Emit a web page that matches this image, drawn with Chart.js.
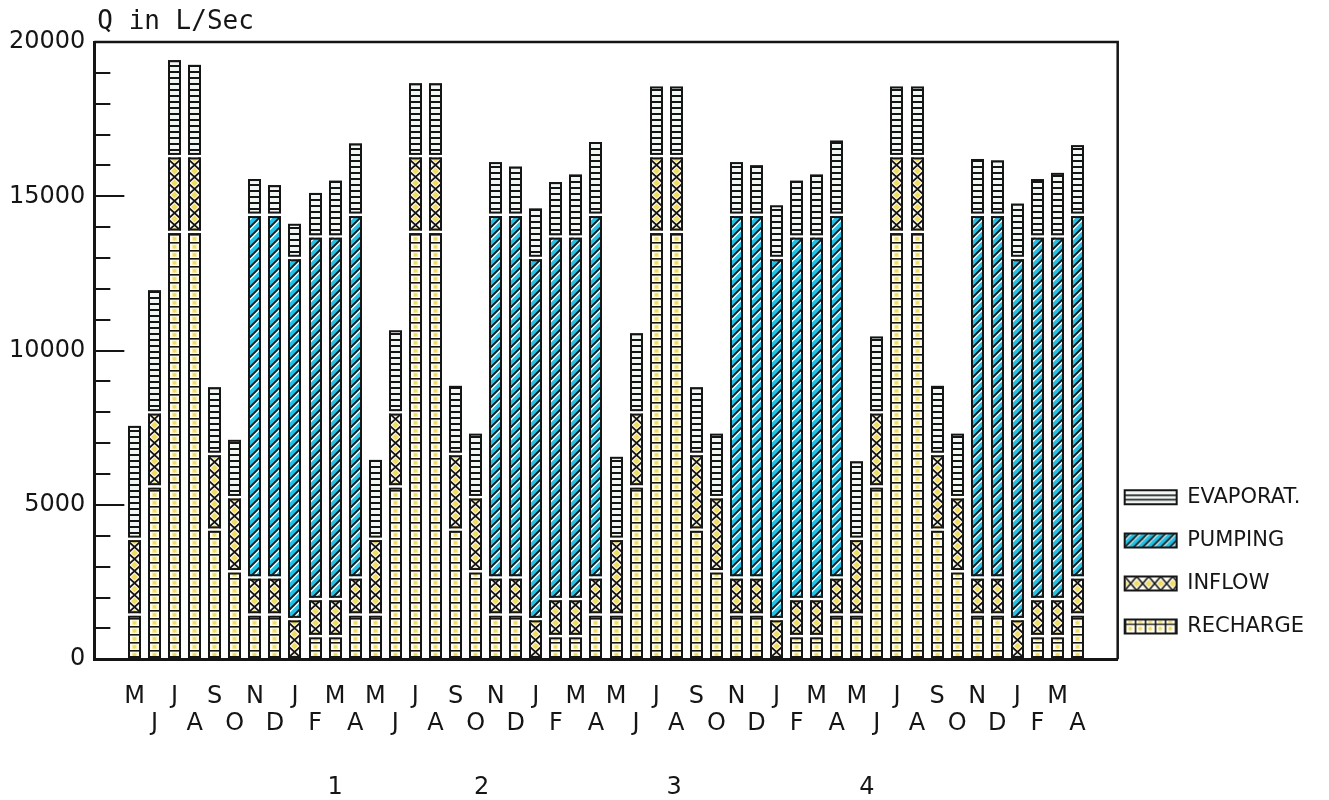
<!DOCTYPE html>
<html>
<head>
<meta charset="utf-8">
<script src="https://cdn.jsdelivr.net/npm/chart.js@4/dist/chart.umd.min.js"></script>
<style>
  html, body { margin: 0; padding: 0; background: #ffffff; }
  #wrap { width: 1329px; height: 800px; }
</style>
</head>
<body>
<div id="wrap"><canvas id="c" width="1329" height="800"></canvas></div>
<script>
// ---------- data ----------
const months = [
  'M','J','J','A','S','O','N','D','J','F','M','A',
  'M','J','J','A','S','O','N','D','J','F','M','A',
  'M','J','J','A','S','O','N','D','J','F','M','A',
  'M','J','J','A','S','O','N','D','J','F','M','A'
];
const yearLabels = ['1', '2', '3', '4'];
const seriesNames = ['RECHARGE', 'INFLOW', 'PUMPING', 'EVAPORAT.'];

const recharge = [
  1450, 5600, 13850, 13850, 4200, 2850, 1450, 1450, 0, 750, 750, 1450,
  1450, 5600, 13850, 13850, 4200, 2850, 1450, 1450, 0, 750, 750, 1450,
  1450, 5600, 13850, 13850, 4200, 2850, 1450, 1450, 0, 750, 750, 1450,
  1450, 5600, 13850, 13850, 4200, 2850, 1450, 1450, 0, 750, 750, 1450
];
const inflow = [
  2450, 2400, 2450, 2450, 2450, 2400, 1200, 1200, 1300, 1200, 1200, 1200,
  2450, 2400, 2450, 2450, 2450, 2400, 1200, 1200, 1300, 1200, 1200, 1200,
  2450, 2400, 2450, 2450, 2450, 2400, 1200, 1200, 1300, 1200, 1200, 1200,
  2450, 2400, 2450, 2450, 2450, 2400, 1200, 1200, 1300, 1200, 1200, 1200
];
const pumping = [
  0, 0, 0, 0, 0, 0, 11750, 11750, 11700, 11750, 11750, 11750,
  0, 0, 0, 0, 0, 0, 11750, 11750, 11700, 11750, 11750, 11750,
  0, 0, 0, 0, 0, 0, 11750, 11750, 11700, 11750, 11750, 11750,
  0, 0, 0, 0, 0, 0, 11750, 11750, 11700, 11750, 11750, 11750
];
const evaporation = [
  3700, 4000, 3150, 3000, 2200, 1900, 1200, 1000, 1150, 1450, 1850, 2350,
  2600, 2700, 2400, 2400, 2250, 2100, 1750, 1600, 1650, 1800, 2050, 2400,
  2700, 2600, 2300, 2300, 2200, 2100, 1750, 1650, 1750, 1850, 2050, 2450,
  2550, 2500, 2300, 2300, 2250, 2100, 1850, 1800, 1800, 1900, 2100, 2300
];
const yAxisTitle = 'Q in L/Sec';

// ---------- fill patterns ----------
const INK = '#151515';
const CYAN = '#22c0e4';
const YEL = '#f1dc62';
function tile(w, h, paint) {
  const cv = document.createElement('canvas');
  cv.width = w; cv.height = h;
  const g = cv.getContext('2d');
  paint(g, w, h);
  return document.createElement('canvas').getContext('2d').createPattern(cv, 'repeat');
}
// bar patterns (vertical columns)
const pEvap = tile(13, 6, (g, w, h) => {
  g.fillStyle = '#f1f8f4'; g.fillRect(0, 0, w, h);
  g.fillStyle = INK; g.fillRect(0, 0, w, 2);
});
const pRech = tile(13, 8, (g, w, h) => {
  g.fillStyle = '#fffdf2'; g.fillRect(0, 0, w, h);
  g.fillStyle = INK; g.fillRect(0, 0, w, 1.6);
  g.fillStyle = '#f7eeb0'; g.fillRect(4, 2.5, 5, 4.5);
  g.fillStyle = YEL; g.beginPath(); g.arc(6.5, 4.8, 1.7, 0, Math.PI * 2); g.fill();
});
const pInfl = tile(13, 12, (g, w, h) => {
  g.fillStyle = '#fffdf4'; g.fillRect(0, 0, w, h);
  g.fillStyle = YEL;
  [0, h].forEach(cy => { g.beginPath(); g.moveTo(6.5, cy - 3.6); g.lineTo(10, cy); g.lineTo(6.5, cy + 3.6); g.lineTo(3, cy); g.closePath(); g.fill(); });
  g.strokeStyle = INK; g.lineWidth = 1.8;
  g.beginPath(); g.moveTo(0, 0); g.lineTo(w, h); g.moveTo(w, 0); g.lineTo(0, h); g.stroke();
});
const pPump = tile(13, 10, (g, w, h) => {
  g.fillStyle = CYAN; g.fillRect(0, 0, w, h);
  for (let k = -2; k <= 3; k++) {
    g.strokeStyle = '#ffffff'; g.lineWidth = 1.3;
    g.beginPath(); g.moveTo(0, k * h + 15.5); g.lineTo(w, k * h + 2.5); g.stroke();
    g.strokeStyle = INK; g.lineWidth = 1.8;
    g.beginPath(); g.moveTo(0, k * h + 13); g.lineTo(w, k * h); g.stroke();
  }
});
// legend swatch patterns (horizontal boxes)
const lEvap = tile(8, 14, (g, w, h) => {
  g.fillStyle = '#f1f8f4'; g.fillRect(0, 0, w, h);
  g.fillStyle = INK; g.fillRect(0, 4.2, w, 1.6); g.fillRect(0, 8.6, w, 1.6);
});
const lPump = tile(9, 14, (g, w, h) => {
  g.fillStyle = CYAN; g.fillRect(0, 0, w, h);
  for (let k = -3; k <= 3; k++) {
    g.strokeStyle = '#ffffff'; g.lineWidth = 1.2;
    g.beginPath(); g.moveTo(k * w + 2, h); g.lineTo(k * w + 2 + h, 0); g.stroke();
    g.strokeStyle = INK; g.lineWidth = 1.6;
    g.beginPath(); g.moveTo(k * w, h); g.lineTo(k * w + h, 0); g.stroke();
  }
});
const lInfl = tile(12, 14, (g, w, h) => {
  g.fillStyle = '#fffdf4'; g.fillRect(0, 0, w, h);
  g.fillStyle = YEL;
  [0, w].forEach(cx => { g.beginPath(); g.moveTo(cx, 3.5); g.lineTo(cx + 3.4, 7); g.lineTo(cx, 10.5); g.lineTo(cx - 3.4, 7); g.closePath(); g.fill(); });
  g.strokeStyle = INK; g.lineWidth = 1.6;
  g.beginPath(); g.moveTo(0, 0); g.lineTo(w, h); g.moveTo(w, 0); g.lineTo(0, h); g.stroke();
});
const lRech = tile(10, 14, (g, w, h) => {
  g.fillStyle = '#fffdf2'; g.fillRect(0, 0, w, h);
  g.fillStyle = INK; g.fillRect(0, 0, 1.6, h); g.fillRect(0, 4, w, 1.3);
  g.fillStyle = YEL; g.beginPath(); g.arc(5.5, 9, 2, 0, Math.PI * 2); g.fill();
  g.fillRect(3.5, 1, 4, 2.5);
});
const barPatterns = [pRech, pInfl, pPump, pEvap];
const legendPatterns = [lRech, lInfl, lPump, lEvap];

// ---------- bar element drawing: outlined, separated stack segments ----------
Chart.BarElement.prototype.draw = function (ctx) {
  const { x, y, base, width } = this.getProps(['x', 'y', 'base', 'width'], true);
  if (![x, y, base, width].every(Number.isFinite)) return;
  const o = this.options;
  const bw = 2, gap = 1.25;
  const L = Math.round(x - width / 2), W = Math.round(width);
  const top = Math.min(y, base) + gap, bot = Math.max(y, base) - gap;
  if (bot - top < 2) return;
  const fill = o.backgroundColor;
  if (fill instanceof CanvasPattern) fill.setTransform(new DOMMatrix([1, 0, 0, 1, L, Math.round(bot)]));
  ctx.save();
  ctx.fillStyle = fill;
  ctx.fillRect(L, top, W, bot - top);
  ctx.strokeStyle = o.borderColor;
  ctx.lineWidth = bw;
  ctx.strokeRect(L + bw / 2, top + bw / 2, W - bw, bot - top - bw);
  ctx.restore();
};

// ---------- decorations plugin: frame, inner tick marks, axis title, year numbers ----------
const decor = {
  id: 'decor',
  beforeDraw(chart) {
    const lg = chart.legend;
    if (!lg || !lg.legendHitBoxes) return;
    const fs = lg.options.labels.font.size, bh = lg.options.labels.boxHeight;
    lg.legendItems.forEach((it, i) => {
      const hb = lg.legendHitBoxes[i];
      if (hb && it.fillStyle instanceof CanvasPattern) {
        it.fillStyle.setTransform(new DOMMatrix([1, 0, 0, 1, hb.left, hb.top + Math.max((fs - bh) / 2, 0)]));
      }
    });
  },
  afterDraw(chart, args, o) {
    const { ctx, chartArea: a, scales: { x, y } } = chart;
    ctx.save();
    ctx.strokeStyle = INK;
    ctx.lineWidth = 2.5;
    ctx.beginPath();
    ctx.moveTo(a.left, a.top); ctx.lineTo(a.right, a.top); ctx.lineTo(a.right, a.bottom);
    ctx.stroke();
    ctx.lineWidth = 2;
    for (let v = y.min + o.minorStep; v < y.max; v += o.minorStep) {
      const py = Math.round(y.getPixelForValue(v));
      const len = v % o.majorStep === 0 ? o.majorLen : o.minorLen;
      ctx.beginPath(); ctx.moveTo(a.left, py); ctx.lineTo(a.left + len, py); ctx.stroke();
    }
    ctx.fillStyle = INK;
    ctx.textBaseline = 'middle';
    ctx.textAlign = 'left';
    ctx.font = '26px "DejaVu Sans Mono"';
    ctx.fillText(yAxisTitle, a.left + 3, o.titleY);
    ctx.textAlign = 'center';
    ctx.font = '24px "DejaVu Sans"';
    o.yearAt.forEach((v, i) => ctx.fillText(yearLabels[i], x.getPixelForValue(v), o.yearY));
    ctx.restore();
  }
};

const toPoints = arr => arr.map((v, i) => ({ x: i, y: v === 0 ? null : v }));
const seriesValues = [recharge, inflow, pumping, evaporation];

new Chart(document.getElementById('c'), {
  type: 'bar',
  data: {
    datasets: seriesNames.map((name, k) => ({
      label: name,
      data: toPoints(seriesValues[k]),
      backgroundColor: barPatterns[k],
      borderColor: INK,
      borderWidth: 2,
      barPercentage: 0.65,
      categoryPercentage: 1
    }))
  },
  options: {
    responsive: false,
    devicePixelRatio: 1,
    animation: false,
    events: [],
    layout: { padding: { left: 0, right: 15, top: 42, bottom: 39 } },
    scales: {
      x: {
        type: 'linear',
        offset: false,
        stacked: true,
        min: -2,
        max: 49,
        afterBuildTicks: s => { s.ticks = months.map((m, i) => ({ value: i })); },
        grid: { display: false, drawTicks: false },
        border: { display: true, color: INK, width: 3 },
        ticks: {
          autoSkip: false,
          maxRotation: 0,
          padding: 24,
          color: INK,
          font: { family: '"DejaVu Sans"', size: 24, lineHeight: 1.12 },
          callback: v => (Number.isInteger(v) && v >= 0 && v < months.length)
            ? (v % 2 === 0 ? [months[v]] : ['', months[v]]) : ''
        }
      },
      y: {
        stacked: true,
        min: 0,
        max: 20000,
        grid: { display: false, drawTicks: false },
        border: { display: true, color: INK, width: 3 },
        ticks: {
          stepSize: 5000,
          padding: 9,
          color: INK,
          font: { family: '"DejaVu Sans"', size: 24 },
          callback: v => String(v)
        }
      }
    },
    plugins: {
      tooltip: { enabled: false },
      title: { display: false },
      legend: {
        display: true,
        position: 'right',
        align: 'end',
        fullSize: false,
        reverse: true,
        labels: {
          boxWidth: 52,
          boxHeight: 14,
          padding: 7,
          color: INK,
          font: { family: '"DejaVu Sans"', size: 21, lineHeight: 1.72 },
          generateLabels: chart => chart.data.datasets.map((ds, i) => ({
            text: [ds.label],
            fillStyle: legendPatterns[i],
            strokeStyle: INK,
            lineWidth: 2,
            hidden: false,
            datasetIndex: i,
            fontColor: INK
          }))
        }
      },
      decor: {
        minorStep: 1000, majorStep: 5000, minorLen: 16, majorLen: 30,
        titleY: 22, yearY: 788,
        yearAt: [10, 17.3, 26.9, 36.5]
      }
    }
  },
  plugins: [decor]
});
</script>
</body>
</html>
